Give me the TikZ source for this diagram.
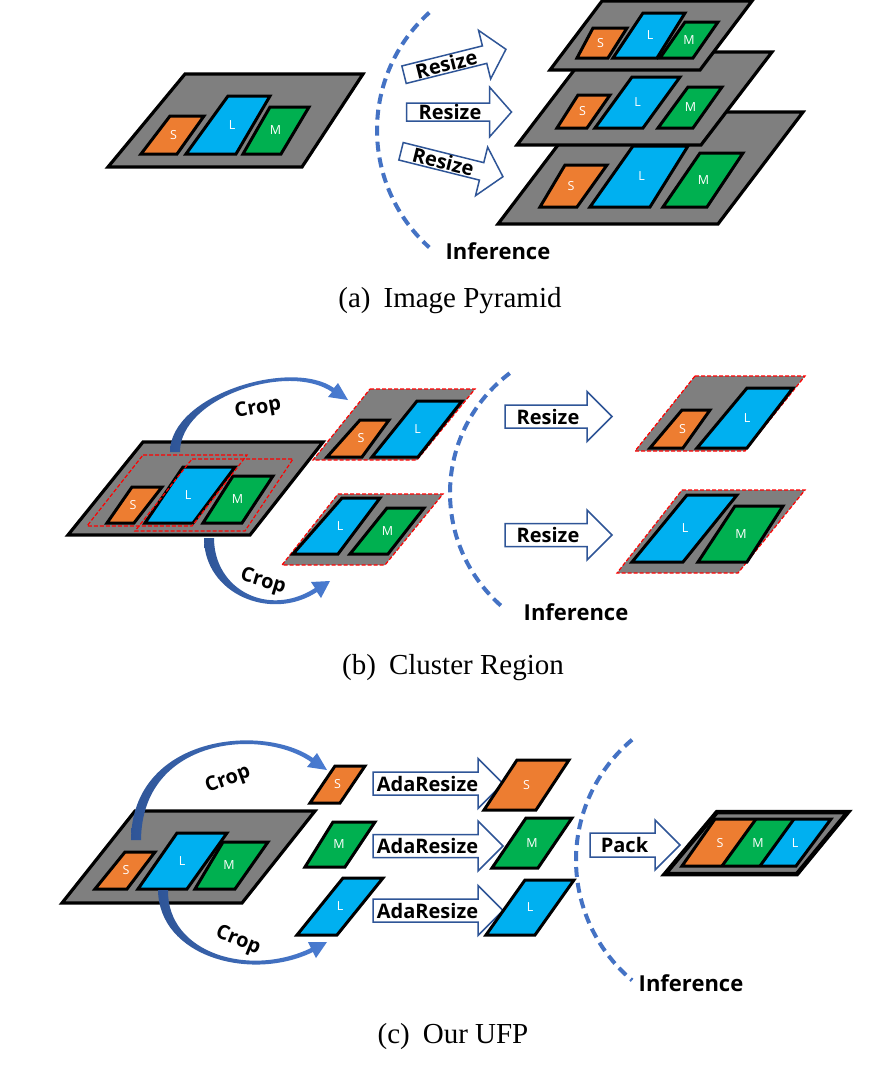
\documentclass[tikz,border=0pt]{standalone}
\usepackage{fontspec}
\setmainfont{Liberation Serif}
\newfontfamily\osans{Open Sans}
\usetikzlibrary{calc}
\definecolor{pgray}{RGB}{127,127,127}
\definecolor{porange}{RGB}{237,125,49}
\definecolor{pblue}{RGB}{0,176,240}
\definecolor{pgreen}{RGB}{0,176,80}
\definecolor{arline}{RGB}{47,85,151}
\definecolor{arcblue}{RGB}{68,114,196}
\definecolor{cropdark}{RGB}{47,85,151}
\definecolor{croplight}{RGB}{74,124,210}
\tikzset{
 frame/.style={fill=pgray, draw=black, line width=3.2pt},
 cellst/.style={draw=black, line width=3pt},
 redcrop/.style={fill=pgray, draw=red, line width=1.2pt, dash pattern=on 4pt off 2pt},
 redbox/.style={draw=red, line width=1.2pt, dash pattern=on 4pt off 2pt},
 lab/.style={text=white, font=\osans\fontsize{12.5}{12.5}\selectfont, inner sep=0pt},
 blockar/.style={draw=arline, line width=1.5pt, fill=white, line join=miter},
 artext/.style={font=\osans\bfseries\fontsize{20}{20}\selectfont, inner sep=0pt},
 inftext/.style={font=\osans\bfseries\fontsize{22}{22}\selectfont, inner sep=0pt},
 infarc/.style={draw=arcblue, line width=4pt, dash pattern=on 10pt off 6pt},
 croparrow/.style={left color=cropdark, right color=croplight, draw=none},
 captxt/.style={font=\fontsize{29}{29}\selectfont, inner sep=0pt},
}
\newcommand\quadp[5]{\path[#1] (#2) -- (#3) -- (#4) -- (#5) -- cycle;}
\newcommand\cellq[7]{%
  \draw[cellst, fill=#2] (#3) -- (#4) -- (#5) -- (#6) -- cycle;
  \node[lab] (#1) at ($(#3)!0.5!(#5)$) {#7};}
\newcommand\barrow[9]{%
 \begin{scope}[shift={(#2,#3)},rotate=#4]
  \draw[blockar] ({-#5/2},{-#6}) -- ({#5/2-#8},{-#6}) -- ({#5/2-#8},{-#7}) -- ({#5/2},0) -- ({#5/2-#8},{#7}) -- ({#5/2-#8},{#6}) -- ({-#5/2},{#6}) -- cycle;
  \node[artext,rotate=#4] (#1) at ({-#8/2+2},0) {#9};
 \end{scope}}
\begin{document}
\begin{tikzpicture}[x=1pt,y=-1pt]
\useasboundingbox (0,0) rectangle (877,1082);
\fill[white] (0,0) rectangle (877,1082);

% ================= (a) =================
\quadp{frame}{185,74}{363,74}{302,167}{108,167}
\cellq{aS}{porange}{170,116}{204,116}{177,154}{141,154}{S}
\cellq{aL}{pblue}{228,96}{270,96}{236,154}{186,154}{L}
\cellq{aM}{pgreen}{270,107}{309,107}{281,154}{243,154}{M}

\draw[infarc] (535,130) ++(228:158) arc[start angle=228,end angle=132,radius=158];

\barrow{ra1}{455}{62}{14}{105}{9}{25}{22}{Resize}
\barrow{ra2}{459}{112}{0}{105}{9}{25}{22}{Resize}
\barrow{ra3}{452}{164}{-14}{105}{9}{25}{22}{Resize}

% bottom layer
\quadp{frame}{583,112}{803,112}{718,224}{498,224}
\cellq{a3S}{porange}{565,165}{607,165}{577,207}{540,207}{S}
\cellq{a3L}{pblue}{633,146}{688,146}{650,207}{590,207}{L}
\cellq{a3M}{pgreen}{700,153}{743,153}{707,207}{663,207}{M}
% middle layer
\quadp{frame}{588,52}{772,52}{701,145}{517,145}
\cellq{a2S}{porange}{578,95}{610,95}{587,128}{557,128}{S}
\cellq{a2L}{pblue}{632,77}{680,77}{643,128}{595,128}{L}
\cellq{a2M}{pgreen}{688,87}{722,87}{693,128}{658,128}{M}
% top layer
\quadp{frame}{602,1}{752,1}{700,70}{550,70}
\cellq{a1S}{porange}{593,28}{627,28}{608,58}{577,58}{S}
\cellq{a1L}{pblue}{643,13}{685,13}{657,58}{613,58}{L}
\cellq{a1M}{pgreen}{685,22}{718,22}{693,58}{660,58}{M}

\node[inftext] (infa) at (498,251) {Inference};
\node[captxt] (capa) at (450,301) {(a)\hspace{0.45em}Image Pyramid};

% ================= (b) =================
\quadp{frame}{143,442}{323,442}{250,535}{68,535}
\cellq{bS}{porange}{132,487}{162,487}{134,523}{107,523}{S}
\cellq{bL}{pblue}{183,467}{235,467}{193,523}{145,523}{L}
\cellq{bM}{pgreen}{233,476}{273,476}{242,523}{203,523}{M}
\quadp{redbox}{143,455}{247,455}{192,526}{87,526}
\quadp{redbox}{192,459}{293,459}{245,531}{135,531}

\path[croparrow] (170,452) .. controls (170,395) and (291,358) .. (334,388) -- (338,383) -- (348,400) -- (328,397) -- (332,392) .. controls (289,362) and (180,397) .. (180,452) -- cycle;
\path[croparrow] (204,538) .. controls (204,594) and (271,622) .. (317,592) -- (321,598) -- (330,581) -- (311,582) -- (315,588) .. controls (269,618) and (214,590) .. (214,538) -- cycle;
\node[artext, rotate=10] (cropb1) at (258,409) {Crop};
\node[artext, rotate=-17] (cropb2) at (263,582) {Crop};

\quadp{redcrop}{370,389}{475,389}{417,460}{313,460}
\cellq{b1S}{porange}{360,420}{389,420}{362,457}{327,457}{S}
\cellq{b1L}{pblue}{417,401}{462,401}{418,457}{372,457}{L}
\quadp{redcrop}{338,494}{443,494}{385,565}{282,565}
\cellq{b2L}{pblue}{342,498}{380,498}{338,554}{293,554}{L}
\cellq{b2M}{pgreen}{387,508}{424,508}{388,554}{350,554}{M}

\draw[infarc] (600,493) ++(233:150) arc[start angle=233,end angle=131,radius=150];

\barrow{rb1}{558.5}{416.5}{0}{107}{11.5}{25}{25}{Resize}
\barrow{rb2}{558.5}{535}{0}{107}{11.5}{25}{25}{Resize}

\quadp{redcrop}{695,376}{805,376}{745,451}{635,451}
\cellq{b3S}{porange}{682,410}{710,410}{683,448}{650,448}{S}
\cellq{b3L}{pblue}{747,388}{793,388}{747,448}{697,448}{L}
\quadp{redcrop}{682,490}{805,490}{738,573}{617,573}
\cellq{b4L}{pblue}{687,495}{737,495}{683,562}{632,562}{L}
\cellq{b4M}{pgreen}{735,506}{783,506}{747,562}{698,562}{M}

\node[inftext] (infb) at (576,612) {Inference};
\node[captxt] (capb) at (453,668) {(b)\hspace{0.45em}Cluster Region};

% ================= (c) =================
\quadp{frame}{135,811}{315,811}{242,903}{62,903}
\cellq{cS}{porange}{125,852}{155,852}{127,889}{95,889}{S}
\cellq{cL}{pblue}{177,833}{227,833}{187,889}{138,889}{L}
\cellq{cM}{pgreen}{223,842}{268,842}{235,889}{195,889}{M}

\path[croparrow] (131,840) .. controls (132,735) and (263,723) .. (313,758) -- (317,753) -- (327,770) -- (307,767) -- (311,762) .. controls (261,727) and (142,738) .. (141,840) -- cycle;
\path[croparrow] (158,890) .. controls (159,957) and (251,982) .. (313,952) -- (316,958) -- (327,942) -- (308,942) -- (311,948) .. controls (249,978) and (167,953) .. (168,890) -- cycle;
\node[artext, rotate=20] (cropc1) at (228,780) {Crop};
\node[artext, rotate=-22] (cropc2) at (238,941) {Crop};

\cellq{c1S}{porange}{335,766}{365,766}{340,803}{310,803}{S}
\cellq{c1M}{pgreen}{333,822}{375,822}{345,867}{305,867}{M}
\cellq{c1L}{pblue}{343,878}{383,878}{337,935}{297,935}{L}

\barrow{rc1}{438}{783.5}{0}{130}{11.5}{25}{25}{AdaResize}
\barrow{rc2}{438}{846}{0}{130}{11.5}{25}{25}{AdaResize}
\barrow{rc3}{438}{910.5}{0}{130}{11.5}{25}{25}{AdaResize}

\cellq{c2S}{porange}{517,760}{569,760}{536,810}{484,810}{S}
\cellq{c2M}{pgreen}{526,818}{572,818}{538,868}{492,868}{M}
\cellq{c2L}{pblue}{525,880}{574,880}{535,935}{486,935}{L}

\draw[infarc] (733,860) ++(230:157) arc[start angle=230,end angle=130,radius=157];

\barrow{pk}{635}{845}{0}{90}{12}{25}{25}{Pack}

\path[fill=pgray, draw=black, line width=4.5pt] (717,812) -- (848,812) -- (797,874) -- (665,874) -- cycle;
\fill[porange] (715,819) -- (756,819) -- (722,866) -- (682,866) -- cycle;
\fill[pgreen] (756,819) -- (794,819) -- (760,866) -- (722,866) -- cycle;
\fill[pblue] (794,819) -- (831,819) -- (796,866) -- (760,866) -- cycle;
\draw[black, line width=3pt] (715,819) -- (831,819) -- (796,866) -- (682,866) -- cycle;
\draw[black, line width=3pt] (756,819) -- (722,866);
\draw[black, line width=3pt] (794,819) -- (760,866);
\node[lab] (pS) at (720,843) {S};
\node[lab] (pM) at (758,843) {M};
\node[lab] (pL) at (795,843) {L};

\node[inftext] (infc) at (691,983) {Inference};
\node[captxt] (capc) at (453,1037) {(c)\hspace{0.45em}Our UFP};
\end{tikzpicture}
\end{document}
